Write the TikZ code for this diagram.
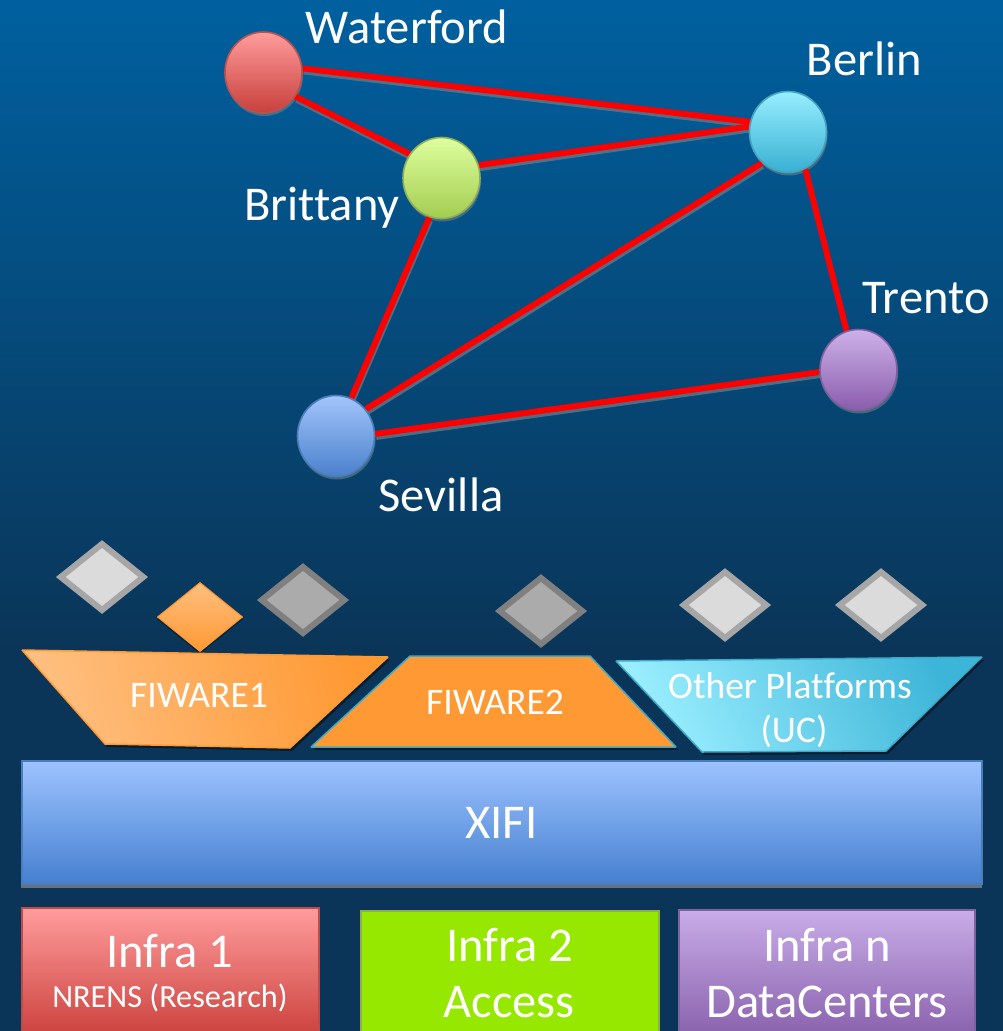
\documentclass[tikz,border=0pt]{standalone}
\usepackage{fontspec}
\setmainfont[Ligatures={NoCommon}]{Carlito}
\usetikzlibrary{shapes.geometric,backgrounds}
\definecolor{bgtop}{HTML}{00609F}
\definecolor{bgmid}{HTML}{064C7F}
\definecolor{bgbot}{HTML}{0A3558}
\tikzset{
  x=1pt,y=-1pt,
  site/.style={ellipse,minimum width=77pt,minimum height=81pt,inner sep=0pt,line width=1.6pt},
  link/.style={draw=red,line width=6pt},
  linkshadow/.style={draw=gray!75!bgtop,line width=5pt,opacity=.8,transform canvas={shift={(1pt,-3.5pt)}}},
  siteshadow/.style={ellipse,minimum width=77pt,minimum height=81pt,inner sep=0pt,fill=gray!75!bgtop,opacity=.7},
  lab/.style={text=white,inner sep=0pt,font=\fontsize{48.5}{54}\selectfont},
  midlab/.style={text=white,inner sep=0pt,font=\fontsize{37.5}{42}\selectfont},
  smalllab/.style={text=white,inner sep=0pt,font=\fontsize{32.3}{38}\selectfont},
  gem/.style={diamond,inner sep=0pt,minimum width=85pt,minimum height=68.5pt,line width=6pt,miter limit=10},
  lightgem/.style={gem,draw=black!35,fill=black!14},
  darkgem/.style={gem,draw=black!50,fill=black!33},
  plate/.style={line width=1.5pt,line join=bevel},
  box/.style={rectangle,inner sep=0pt,line width=2pt,anchor=north west},
  dropshadow/.style={fill=black,opacity=.45,draw=none}
}
\begin{document}
\begin{tikzpicture}
\useasboundingbox (0,0) rectangle (1003,1031);
\clip (0,0) rectangle (1003,1031);

% network sites
\node[site,draw={rgb,255:red,184;green,84;blue,80},top color={rgb,255:red,255;green,156;blue,156},bottom color={rgb,255:red,200;green,64;blue,60}] (wat) at (263.5,72.5) {};
\node[site,draw={rgb,255:red,143;green,174;blue,85},top color={rgb,255:red,221;green,255;blue,158},bottom color={rgb,255:red,164;green,204;blue,80}] (bri) at (441.5,178) {};
\node[site,draw={rgb,255:red,69;green,165;blue,192},top color={rgb,255:red,151;green,238;blue,255},bottom color={rgb,255:red,56;green,176;blue,210}] (ber) at (788,132) {};
\node[site,draw={rgb,255:red,125;green,96;blue,160},top color={rgb,255:red,205;green,177;blue,234},bottom color={rgb,255:red,138;green,92;blue,171}] (tre) at (858.5,370) {};
\node[site,draw={rgb,255:red,74;green,126;blue,187},top color={rgb,255:red,163;green,197;blue,251},bottom color={rgb,255:red,74;green,128;blue,204}] (sev) at (336,436) {};

\begin{pgfonlayer}{background}
  \shade[top color=bgtop,middle color=bgmid,bottom color=bgbot,shading=axis] (0,0) rectangle (1003,650);
  \fill[bgbot] (0,649) rectangle (1003,1031);
  \node[siteshadow] (swat) at (264.5,75.5) {};
  \node[siteshadow] (sbri) at (442.5,181) {};
  \node[siteshadow] (sber) at (789,135) {};
  \node[siteshadow] (stre) at (859.5,373) {};
  \node[siteshadow] (ssev) at (337,439) {};
  \foreach \a/\b in {wat.6/ber.165,wat.-37/bri.143,bri.19/ber.172,bri.253/sev.68,ber.230/sev.42,ber.295/tre.107,sev.3/tre.183}{
    \draw[linkshadow] (\a) -- (\b);
  }
  \foreach \a/\b in {wat.6/ber.165,wat.-37/bri.143,bri.19/ber.172,bri.253/sev.68,ber.230/sev.42,ber.295/tre.107,sev.3/tre.183}{
    \draw[link] (\a) -- (\b);
  }
\end{pgfonlayer}

\node[lab] (lwat) at (407,27) {Waterford};
\node[lab] (lber) at (864.5,59) {Berlin};
\node[lab] (lbri) at (322,208) {Brittany};
\node[lab] (ltre) at (926,298) {Trento};
\node[lab] (lsev) at (441,495) {Sevilla};

% service diamonds
\node[lightgem] (g1) at (102,577) {};
\node[darkgem] (g3) at (303,600) {};
\node[darkgem] (g4) at (541,611) {};
\node[lightgem] (g5) at (725,605) {};
\node[lightgem] (g6) at (881,605) {};
\fill[black,opacity=.35] (200,584) -- (243,619) -- (200,654) -- (157,619) -- cycle;
\node[diamond,inner sep=0pt,minimum width=85pt,minimum height=69pt,line width=1.2pt,draw={rgb,255:red,255;green,153;blue,51},top color={rgb,255:red,255;green,191;blue,128},bottom color={rgb,255:red,255;green,153;blue,51}] (g2) at (200,617) {};

% platforms
\fill[dropshadow] (24,653) -- (390,660) -- (292,751) -- (107,747) -- cycle;
\fill[dropshadow] (413,659) -- (592,659) -- (678,750) -- (314,750) -- cycle;
\fill[dropshadow] (618,664) -- (984,660) -- (888,754) -- (704,755) -- cycle;
\shade[left color={rgb,255:red,255;green,191;blue,128},middle color={rgb,255:red,255;green,183;blue,115},right color={rgb,255:red,255;green,153;blue,51},shading angle=105]
  (22,650) -- (388,657) -- (290,748) -- (105,744) -- cycle;
\draw[plate,draw={rgb,255:red,255;green,153;blue,51}] (22,650) -- (388,657) -- (290,748) -- (105,744) -- cycle;
\draw[plate,fill={rgb,255:red,255;green,153;blue,51},draw={rgb,255:red,63;green,169;blue,201}] (410,656) -- (590,656) -- (676,747) -- (311,747) -- cycle;
\shade[left color={rgb,255:red,154;green,238;blue,255},middle color={rgb,255:red,150;green,232;blue,250},right color={rgb,255:red,61;green,181;blue,216},shading angle=115]
  (616,661) -- (982,657) -- (886,751) -- (702,752) -- cycle;
\draw[plate,draw={rgb,255:red,63;green,169;blue,201}] (616,661) -- (982,657) -- (886,751) -- (702,752) -- cycle;
\node[midlab] (f1) at (199,695) {FIWARE1};
\node[midlab] (f2) at (495,702) {FIWARE2};
\node[midlab] (o1) at (790,686) {Other Platforms};
\node[midlab] (o2) at (794,731) {(UC)};

% XIFI
\fill[gray!80!bgbot] (21,883) rectangle (982,888);
\node[box,minimum width=960pt,minimum height=123pt,draw={rgb,255:red,74;green,126;blue,187},top color={rgb,255:red,157;green,195;blue,255},bottom color={rgb,255:red,70;green,128;blue,208}] (xifi) at (21,759.5) {};
\node[lab] (lx) at (501.5,823) {XIFI};

% infrastructures
\node[box,minimum width=297pt,minimum height=136pt,draw={rgb,255:red,190;green,75;blue,72},top color={rgb,255:red,255;green,156;blue,156},bottom color={rgb,255:red,200;green,60;blue,55}] (i1) at (21,907) {};
\node[box,minimum width=298pt,minimum height=135pt,draw={rgb,255:red,140;green,176;blue,80},fill={rgb,255:red,150;green,232;blue,0}] (i2) at (360,910) {};
\node[box,minimum width=296pt,minimum height=135pt,draw={rgb,255:red,127;green,98;blue,160},top color={rgb,255:red,200;green,172;blue,232},bottom color={rgb,255:red,133;green,92;blue,168}] (i3) at (678,909) {};
\node[lab] (l1a) at (170,951) {Infra 1};
\node[smalllab] (l1b) at (170,998) {NRENS (Research)};
\node[lab] (l2a) at (509.5,945) {Infra 2};
\node[lab] (l2b) at (509,1002) {Access};
\node[lab] (l3a) at (827,945) {Infra n};
\node[lab] (l3b) at (827,1002) {DataCenters};
\end{tikzpicture}
\end{document}
